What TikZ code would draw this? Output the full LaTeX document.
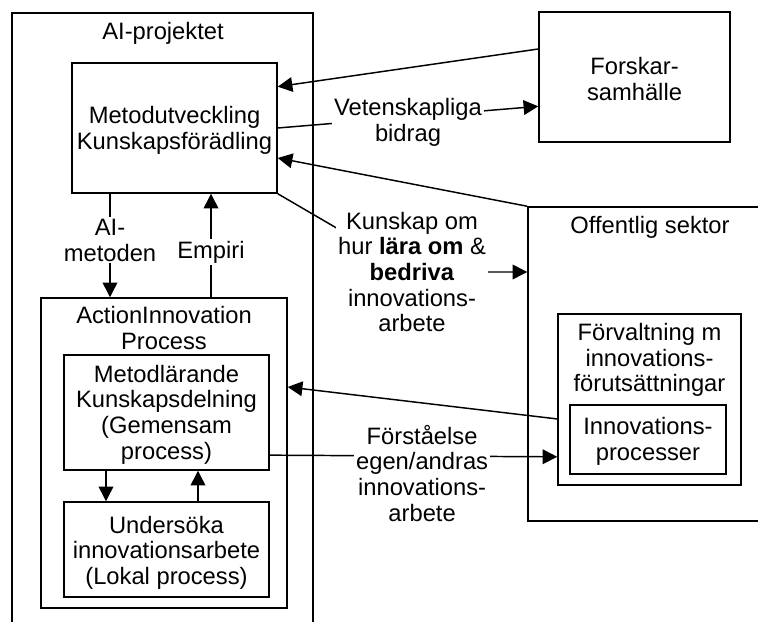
\documentclass[tikz,border=0pt]{standalone}
\usepackage{fontspec}
\setmainfont{Liberation Sans}
\usetikzlibrary{arrows.meta,fit}

\tikzset{
  box/.style={draw, line width=1.1pt, inner sep=0pt},
  title/.style={inner sep=0pt, align=center},
  lbl/.style={fill=white, inner sep=1.5pt, align=center},
  link/.style={line width=1.1pt, -{Triangle[length=11pt,width=11pt]}},
}

\begin{document}
\begin{tikzpicture}[x=7.5pt, y=7.5pt, font=\fontsize{17.8}{19.3}\selectfont]
  \useasboundingbox (0,0) rectangle (75.8,62.2);
  \clip (0,0) rectangle (75.8,62.2);
  % AI-projektet
  \node[box, fit={(1.2,-2) (31.3,60.9)}] (proj) {};
  \node[title] (projtitle) at (16.3,58.9) {AI-projektet};
  \node[box, fit={(7.2,55.9) (27.7,42.9)}] (meto) {};
  \node[title, yshift=-2pt] (metotext) at (meto) {Metodutveckling\\Kunskapsförädling};
  % ActionInnovation process
  \node[box, fit={(4.1,32.4) (28.7,1.4)}] (aip) {};
  \node[title] (aiptitle) at (16.4,29.4) {ActionInnovation\\Process};
  \node[box, fit={(6.4,26.7) (26.9,15.2)}] (meld) {};
  \node[title, yshift=-1.5pt] (meldtext) at (meld) {Metodlärande\\Kunskapsdelning\\(Gemensam\\process)};
  \node[box, fit={(6.4,12.0) (26.9,2.5)}] (unders) {};
  \node[title, yshift=-2.5pt] (unterstext) at (unders) {Undersöka\\innovationsarbete\\(Lokal process)};
  % forskarsamhalle
  \node[box, fit={(53.9,61.0) (73.0,48.0)}] (forsk) {};
  \node[title, yshift=-1.5pt] (forsktext) at (forsk) {Forskar-\\samhälle};
  % offentlig sektor
  \node[box, fit={(52.8,41.5) (80,10.1)}] (off) {};
  \node[title] (offtitle) at (65.0,39.5) {Offentlig sektor};
  \node[box, fit={(55.8,30.8) (74.1,13.7)}] (forv) {};
  \node[title] (forvtitle) at (64.95,26.2) {Förvaltning m\\innovations-\\förutsättningar};
  \node[box, fit={(57.0,21.7) (72.6,14.8)}] (innp) {};
  \node[title, yshift=-1.5pt] (innptext) at (innp) {Innovations-\\processer};
  % forskarsamhalle <-> metodutveckling
  \draw[link] ([yshift=21pt]forsk.west) -- ([yshift=31pt]meto.east);
  \draw[link] (meto.east) -- ([yshift=-22pt]forsk.west)
    node[lbl, midway, yshift=-4pt] (vet) {Vetenskapliga\\bidrag};
  % offentlig sektor <-> metodutveckling
  \draw[link] (off.north west) -- ([yshift=-22.5pt]meto.east);
  \coordinate (kpt) at (41.2,35.0);
  \draw[link] (meto.south east) -- (kpt)
    node[lbl] (kunskap) {Kunskap om\\hur \textbf{lära om} \&\\\textbf{bedriva}\\innovations-\\arbete}
    -- (kpt -| off.west);
  % inside AI-projektet
  \draw[link] (meto.south -| 11,0) -- (aip.north -| 11,0)
    node[lbl, midway, yshift=4pt] (aimet) {AI-\\metoden};
  \draw[link] (aip.north -| 21.1,0) -- (meto.south -| 21.1,0)
    node[lbl, midway, yshift=-5pt] (empiri) {Empiri};
  \draw[link] (meld.south -| 10.6,0) -- (unders.north -| 10.6,0);
  \draw[link] (unders.north -| 19.8,0) -- (meld.south -| 19.8,0);
  % forvaltning <-> process
  \draw[link] ([yshift=-14.6pt]forv.west) -- ([yshift=49.5pt]aip.east);
  \draw[link] ([yshift=-32pt]meld.east) -- ([yshift=-43pt]forv.west)
    node[lbl, pos=0.53, yshift=-13pt] (forst) {Förståelse\\egen/andras\\innovations-\\arbete};
\end{tikzpicture}
\end{document}
